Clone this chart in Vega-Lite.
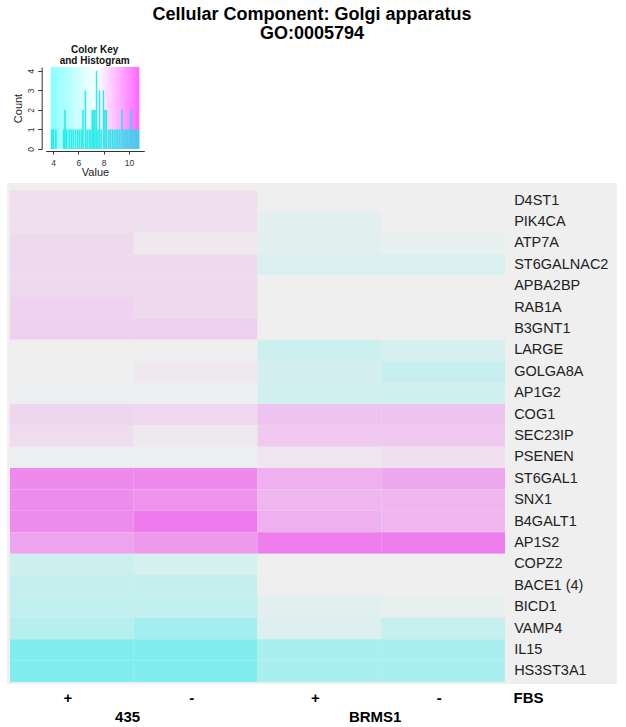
{
  "$schema": "https://vega.github.io/schema/vega-lite/v6.json",
  "background": "white",
  "padding": {"left": 7, "top": 6, "right": 0, "bottom": 0},
  "title": {"text": ["Cellular Component: Golgi apparatus", "GO:0005794"], "fontSize": 18, "font": "Liberation Sans", "fontWeight": "bold", "lineHeight": 19, "anchor": "middle", "color": "#000000", "offset": 2},
  "datasets": {
    "hist": [
      {"value": 3.90, "count": 1}, {"value": 4.02, "count": 1}, {"value": 4.22, "count": 1}, {"value": 4.85, "count": 1},
      {"value": 4.95, "count": 2}, {"value": 5.08, "count": 1}, {"value": 5.28, "count": 1}, {"value": 5.45, "count": 1},
      {"value": 5.60, "count": 1}, {"value": 5.78, "count": 1}, {"value": 5.95, "count": 1}, {"value": 6.10, "count": 1},
      {"value": 6.25, "count": 1}, {"value": 6.37, "count": 2}, {"value": 6.56, "count": 3}, {"value": 6.70, "count": 1},
      {"value": 6.85, "count": 1}, {"value": 6.98, "count": 1}, {"value": 7.10, "count": 2}, {"value": 7.22, "count": 2},
      {"value": 7.32, "count": 2}, {"value": 7.44, "count": 4}, {"value": 7.55, "count": 1}, {"value": 7.67, "count": 3},
      {"value": 7.80, "count": 1}, {"value": 7.98, "count": 3}, {"value": 8.10, "count": 2}, {"value": 8.22, "count": 2},
      {"value": 8.38, "count": 1}, {"value": 8.52, "count": 1}, {"value": 8.68, "count": 1}, {"value": 8.82, "count": 1},
      {"value": 8.98, "count": 1}, {"value": 9.12, "count": 1}, {"value": 9.28, "count": 1}, {"value": 9.45, "count": 2},
      {"value": 9.60, "count": 1}, {"value": 9.75, "count": 1}, {"value": 9.90, "count": 1}, {"value": 10.05, "count": 1},
      {"value": 10.18, "count": 2}, {"value": 10.32, "count": 1}, {"value": 10.48, "count": 1}, {"value": 10.62, "count": 1},
      {"value": 10.76, "count": 1}
    ],
    "cells": [
      {"gene": "D4ST1", "col": "435|+", "v": 7.84}, {"gene": "D4ST1", "col": "435|-", "v": 7.84}, {"gene": "D4ST1", "col": "BRMS1|+", "v": 7.4}, {"gene": "D4ST1", "col": "BRMS1|-", "v": 7.4},
      {"gene": "PIK4CA", "col": "435|+", "v": 7.84}, {"gene": "PIK4CA", "col": "435|-", "v": 7.84}, {"gene": "PIK4CA", "col": "BRMS1|+", "v": 7.13}, {"gene": "PIK4CA", "col": "BRMS1|-", "v": 7.4},
      {"gene": "ATP7A", "col": "435|+", "v": 7.98}, {"gene": "ATP7A", "col": "435|-", "v": 7.57}, {"gene": "ATP7A", "col": "BRMS1|+", "v": 7.06}, {"gene": "ATP7A", "col": "BRMS1|-", "v": 7.23},
      {"gene": "ST6GALNAC2", "col": "435|+", "v": 7.98}, {"gene": "ST6GALNAC2", "col": "435|-", "v": 7.98}, {"gene": "ST6GALNAC2", "col": "BRMS1|+", "v": 6.89}, {"gene": "ST6GALNAC2", "col": "BRMS1|-", "v": 6.89},
      {"gene": "APBA2BP", "col": "435|+", "v": 7.98}, {"gene": "APBA2BP", "col": "435|-", "v": 7.98}, {"gene": "APBA2BP", "col": "BRMS1|+", "v": 7.4}, {"gene": "APBA2BP", "col": "BRMS1|-", "v": 7.4},
      {"gene": "RAB1A", "col": "435|+", "v": 8.18}, {"gene": "RAB1A", "col": "435|-", "v": 7.98}, {"gene": "RAB1A", "col": "BRMS1|+", "v": 7.4}, {"gene": "RAB1A", "col": "BRMS1|-", "v": 7.4},
      {"gene": "B3GNT1", "col": "435|+", "v": 8.25}, {"gene": "B3GNT1", "col": "435|-", "v": 8.25}, {"gene": "B3GNT1", "col": "BRMS1|+", "v": 7.4}, {"gene": "B3GNT1", "col": "BRMS1|-", "v": 7.4},
      {"gene": "LARGE", "col": "435|+", "v": 7.4}, {"gene": "LARGE", "col": "435|-", "v": 7.4}, {"gene": "LARGE", "col": "BRMS1|+", "v": 6.55}, {"gene": "LARGE", "col": "BRMS1|-", "v": 6.79},
      {"gene": "GOLGA8A", "col": "435|+", "v": 7.4}, {"gene": "GOLGA8A", "col": "435|-", "v": 7.6}, {"gene": "GOLGA8A", "col": "BRMS1|+", "v": 6.72}, {"gene": "GOLGA8A", "col": "BRMS1|-", "v": 6.45},
      {"gene": "AP1G2", "col": "435|+", "v": 7.3}, {"gene": "AP1G2", "col": "435|-", "v": 7.3}, {"gene": "AP1G2", "col": "BRMS1|+", "v": 6.65}, {"gene": "AP1G2", "col": "BRMS1|-", "v": 6.65},
      {"gene": "COG1", "col": "435|+", "v": 8.08}, {"gene": "COG1", "col": "435|-", "v": 8.01}, {"gene": "COG1", "col": "BRMS1|+", "v": 8.59}, {"gene": "COG1", "col": "BRMS1|-", "v": 8.59},
      {"gene": "SEC23IP", "col": "435|+", "v": 7.91}, {"gene": "SEC23IP", "col": "435|-", "v": 7.57}, {"gene": "SEC23IP", "col": "BRMS1|+", "v": 8.42}, {"gene": "SEC23IP", "col": "BRMS1|-", "v": 8.42},
      {"gene": "PSENEN", "col": "435|+", "v": 7.3}, {"gene": "PSENEN", "col": "435|-", "v": 7.3}, {"gene": "PSENEN", "col": "BRMS1|+", "v": 7.67}, {"gene": "PSENEN", "col": "BRMS1|-", "v": 7.84},
      {"gene": "ST6GAL1", "col": "435|+", "v": 10.12}, {"gene": "ST6GAL1", "col": "435|-", "v": 10.12}, {"gene": "ST6GAL1", "col": "BRMS1|+", "v": 9.1}, {"gene": "ST6GAL1", "col": "BRMS1|-", "v": 9.27},
      {"gene": "SNX1", "col": "435|+", "v": 10.05}, {"gene": "SNX1", "col": "435|-", "v": 9.85}, {"gene": "SNX1", "col": "BRMS1|+", "v": 8.93}, {"gene": "SNX1", "col": "BRMS1|-", "v": 8.93},
      {"gene": "B4GALT1", "col": "435|+", "v": 10.05}, {"gene": "B4GALT1", "col": "435|-", "v": 10.53}, {"gene": "B4GALT1", "col": "BRMS1|+", "v": 9.1}, {"gene": "B4GALT1", "col": "BRMS1|-", "v": 8.93},
      {"gene": "AP1S2", "col": "435|+", "v": 9.44}, {"gene": "AP1S2", "col": "435|-", "v": 9.71}, {"gene": "AP1S2", "col": "BRMS1|+", "v": 10.46}, {"gene": "AP1S2", "col": "BRMS1|-", "v": 10.46},
      {"gene": "COPZ2", "col": "435|+", "v": 6.55}, {"gene": "COPZ2", "col": "435|-", "v": 6.79}, {"gene": "COPZ2", "col": "BRMS1|+", "v": 7.4}, {"gene": "COPZ2", "col": "BRMS1|-", "v": 7.4},
      {"gene": "BACE1 (4)", "col": "435|+", "v": 6.38}, {"gene": "BACE1 (4)", "col": "435|-", "v": 6.38}, {"gene": "BACE1 (4)", "col": "BRMS1|+", "v": 7.4}, {"gene": "BACE1 (4)", "col": "BRMS1|-", "v": 7.4},
      {"gene": "BICD1", "col": "435|+", "v": 6.31}, {"gene": "BICD1", "col": "435|-", "v": 6.31}, {"gene": "BICD1", "col": "BRMS1|+", "v": 7.06}, {"gene": "BICD1", "col": "BRMS1|-", "v": 7.2},
      {"gene": "VAMP4", "col": "435|+", "v": 6.04}, {"gene": "VAMP4", "col": "435|-", "v": 5.53}, {"gene": "VAMP4", "col": "BRMS1|+", "v": 6.99}, {"gene": "VAMP4", "col": "BRMS1|-", "v": 6.45},
      {"gene": "IL15", "col": "435|+", "v": 4.68}, {"gene": "IL15", "col": "435|-", "v": 4.68}, {"gene": "IL15", "col": "BRMS1|+", "v": 5.7}, {"gene": "IL15", "col": "BRMS1|-", "v": 5.7},
      {"gene": "HS3ST3A1", "col": "435|+", "v": 4.68}, {"gene": "HS3ST3A1", "col": "435|-", "v": 4.68}, {"gene": "HS3ST3A1", "col": "BRMS1|+", "v": 5.7}, {"gene": "HS3ST3A1", "col": "BRMS1|-", "v": 5.7}
    ]
  },
  "spacing": 5,
  "vconcat": [
    {
      "width": 137.3,
      "height": 82,
      "title": {"text": ["Color Key", "and Histogram"], "fontSize": 10, "fontWeight": "bold", "lineHeight": 11, "offset": 1, "anchor": "middle", "dx": 19, "font": "Liberation Sans", "color": "#111111"},
      "view": {"stroke": null},
      "layer": [
        {
          "data": {"values": [{}]},
          "mark": {"type": "rect", "color": {"gradient": "linear", "x1": 0, "y1": 0, "x2": 1, "y2": 0, "stops": [{"offset": 0, "color": "#88FFFF"}, {"offset": 0.53, "color": "#FFFFFF"}, {"offset": 1, "color": "#FF66FF"}]}},
          "encoding": {
            "x": {"datum": 3.815, "type": "quantitative", "scale": {"domain": [3.815, 10.82], "range": [38.7, 137.3], "nice": false, "zero": false},
              "axis": {"values": [4, 6, 8, 10], "grid": false, "offset": 2, "tickSize": 3, "labelOverlap": false, "labelFontSize": 8.5, "labelPadding": 4, "labelColor": "#333333", "domainColor": "#333333", "tickColor": "#333333", "title": "Value", "titleFontSize": 11, "titleFontWeight": "normal", "titlePadding": 0, "titleColor": "#222222", "titleX": 88, "labelFont": "Liberation Sans", "titleFont": "Liberation Sans"}},
            "x2": {"datum": 10.82},
            "y": {"datum": 0, "type": "quantitative", "scale": {"domain": [0, 4.2], "nice": false},
              "axis": {"values": [0, 1, 2, 3, 4], "grid": false, "offset": -34.7, "tickSize": 4, "labelOverlap": false, "labelAngle": -90, "labelAlign": "center", "labelBaseline": "bottom", "labelFontSize": 8.5, "labelPadding": 2, "labelColor": "#333333", "domainColor": "#333333", "tickColor": "#333333", "title": "Count", "titleFontSize": 11, "titleFontWeight": "normal", "titlePadding": 3, "titleColor": "#222222", "labelFont": "Liberation Sans", "titleFont": "Liberation Sans"}},
            "y2": {"datum": 4.2}
          }
        },
        {
          "data": {"name": "hist"},
          "mark": {"type": "bar", "width": 1.6, "color": "#10E8E8", "opacity": 0.85},
          "encoding": {
            "x": {"field": "value", "type": "quantitative", "scale": {"domain": [3.815, 10.82], "range": [38.7, 137.3], "nice": false, "zero": false},
              "axis": {"values": [4, 6, 8, 10], "grid": false, "offset": 2, "tickSize": 3, "labelOverlap": false, "labelFontSize": 8.5, "labelPadding": 4, "labelColor": "#333333", "domainColor": "#333333", "tickColor": "#333333", "title": "Value", "titleFontSize": 11, "titleFontWeight": "normal", "titlePadding": 0, "titleColor": "#222222", "titleX": 88, "labelFont": "Liberation Sans", "titleFont": "Liberation Sans"}},
            "y": {"field": "count", "type": "quantitative", "scale": {"domain": [0, 4.2], "nice": false},
              "axis": {"values": [0, 1, 2, 3, 4], "grid": false, "offset": -34.7, "tickSize": 4, "labelOverlap": false, "labelAngle": -90, "labelAlign": "center", "labelBaseline": "bottom", "labelFontSize": 8.5, "labelPadding": 2, "labelColor": "#333333", "domainColor": "#333333", "tickColor": "#333333", "title": "Count", "titleFontSize": 11, "titleFontWeight": "normal", "titlePadding": 3, "titleColor": "#222222", "labelFont": "Liberation Sans", "titleFont": "Liberation Sans"}}
          }
        }
      ]
    },
    {
      "width": 610,
      "height": 501,
      "view": {"fill": "#EFEFEF", "stroke": null},
      "data": {"name": "cells"},
      "layer": [
        {
          "mark": {"type": "rect"},
          "encoding": {
            "x": {"field": "col", "type": "nominal", "sort": null,
              "scale": {"domain": ["435|+", "435|-", "BRMS1|+", "BRMS1|-"], "paddingInner": 0, "paddingOuter": 0.4646, "align": 0.0261},
              "axis": {"orient": "bottom", "domain": false, "ticks": false, "labelAngle": 0, "labelExpr": "indexof(datum.value, '+') >= 0 ? '+' : '-'", "labelFontSize": 15, "labelFontWeight": "bold", "labelColor": "#000000", "labelFont": "Liberation Sans", "labelPadding": 6, "labelOffset": -4,
                "title": "FBS", "titleX": 506, "titleY": 6, "titleAlign": "left", "titleBaseline": "top", "titleFontSize": 15, "titleFontWeight": "bold", "titleColor": "#000000", "titleFont": "Liberation Sans"}},
            "y": {"field": "gene", "type": "nominal", "sort": null, "scale": {"paddingInner": 0, "paddingOuter": 0.2104, "align": 0.778}, "axis": null},
            "color": {"field": "v", "type": "quantitative", "scale": {"type": "linear", "domain": [4.0, 7.4, 10.8], "range": ["#64EEEE", "#EFEFEF", "#EE70EE"], "interpolate": "rgb"}, "legend": null}
          }
        },
        {
          "transform": [{"filter": "datum.col == 'BRMS1|-'"}],
          "mark": {"type": "text", "align": "left", "baseline": "middle", "dx": 71, "fontSize": 14.5, "font": "Liberation Sans", "color": "#222222"},
          "encoding": {
            "x": {"field": "col", "type": "nominal", "sort": null,
              "scale": {"domain": ["435|+", "435|-", "BRMS1|+", "BRMS1|-"], "paddingInner": 0, "paddingOuter": 0.4646, "align": 0.0261},
              "axis": {"orient": "bottom", "offset": 20, "values": ["435|-", "BRMS1|-"], "labelExpr": "datum.value == '435|-' ? '435' : 'BRMS1'", "domain": false, "ticks": false, "labelAngle": 0, "labelFontSize": 15, "labelFontWeight": "bold", "labelColor": "#000000", "labelFont": "Liberation Sans", "labelPadding": 5, "labelOffset": -68, "title": null}},
            "y": {"field": "gene", "type": "nominal", "sort": null, "axis": null},
            "text": {"field": "gene"}
          }
        }
      ],
      "resolve": {"axis": {"x": "independent"}}
    }
  ]
}
